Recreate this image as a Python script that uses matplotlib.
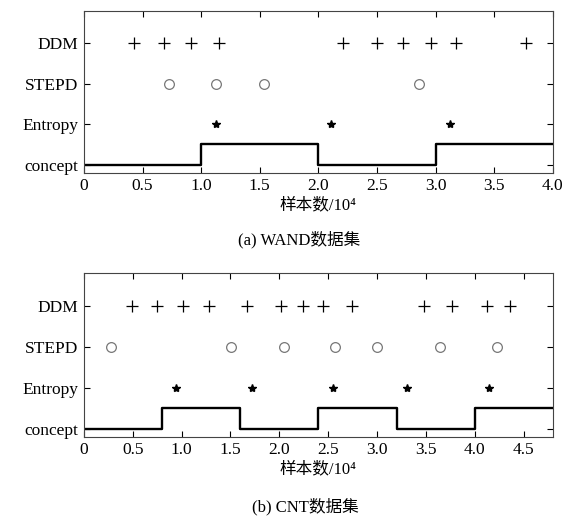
import matplotlib
matplotlib.use("Agg")
import matplotlib.pyplot as plt

plt.rcParams['font.family'] = ['Liberation Serif', 'Noto Sans CJK SC', 'DejaVu Serif']

levels = ['concept', 'Entropy', 'STEPD', 'DDM']

# (a) WAND
wand_ddm = [0.43, 0.68, 0.915, 1.155, 2.21, 2.50, 2.72, 2.96, 3.17, 3.77]
wand_stepd = [0.73, 1.13, 1.535, 2.855]
wand_entropy = [1.13, 2.11, 3.12]
wand_concept_x = [0, 1.0, 2.0, 3.0, 4.0]
wand_concept_y = [1, 1.5, 1, 1.5, 1.5]

# (b) CNT
cnt_ddm = [0.49, 0.75, 1.01, 1.28, 1.67, 2.02, 2.24, 2.45, 2.74, 3.48, 3.77, 4.13, 4.36]
cnt_stepd = [0.28, 1.51, 2.05, 2.57, 3.0, 3.65, 4.23]
cnt_entropy = [0.94, 1.72, 2.55, 3.31, 4.15]
cnt_concept_x = [0, 0.8, 1.6, 2.4, 3.2, 4.0, 4.8]
cnt_concept_y = [1, 1.5, 1, 1.5, 1, 1.5, 1.5]

fig = plt.figure(figsize=(5.67, 5.22), dpi=100)


def draw(ax, ddm, stepd, entropy, cx, cy, xmax, xticks):
    ax.step(cx, cy, where='post', color='black', lw=1.7)
    ax.plot(ddm, [4] * len(ddm), linestyle='none', marker='+', color='black',
            markersize=8, markeredgewidth=0.9)
    ax.plot(stepd, [3] * len(stepd), linestyle='none', marker='o', markerfacecolor='none',
            markeredgecolor='#777777', markersize=7, markeredgewidth=0.9)
    ax.plot(entropy, [2] * len(entropy), linestyle='none', marker='*', color='black',
            markersize=6)
    ax.set_xlim(0, xmax)
    ax.set_ylim(0.8, 4.8)
    ax.set_yticks([1, 2, 3, 4])
    ax.set_yticklabels(levels)
    ax.set_xticks(xticks)
    ax.set_xticklabels(['0'] + ['%.1f' % t for t in xticks[1:]])
    ax.tick_params(direction='in', top=True, right=True, length=4, labelsize=12.5,
                   width=0.8, pad=4)
    for s in ax.spines.values():
        s.set_linewidth(0.8)
        s.set_color('#444444')
    ax.set_xlabel('样本数/10⁴', fontsize=12, labelpad=2)


ax1 = fig.add_axes([0.148, 0.669, 0.827, 0.310])
draw(ax1, wand_ddm, wand_stepd, wand_entropy, wand_concept_x, wand_concept_y, 4.0,
     [0, 0.5, 1.0, 1.5, 2.0, 2.5, 3.0, 3.5, 4.0])
fig.text(0.528, 1 - 240 / 522, '(a) WAND数据集', ha='center', va='center', fontsize=12)

ax2 = fig.add_axes([0.148, 0.163, 0.827, 0.314])
draw(ax2, cnt_ddm, cnt_stepd, cnt_entropy, cnt_concept_x, cnt_concept_y, 4.8,
     [0, 0.5, 1.0, 1.5, 2.0, 2.5, 3.0, 3.5, 4.0, 4.5])
fig.text(0.538, 1 - 507 / 522, '(b) CNT数据集', ha='center', va='center', fontsize=12)

fig.savefig('out.png', dpi=100)
